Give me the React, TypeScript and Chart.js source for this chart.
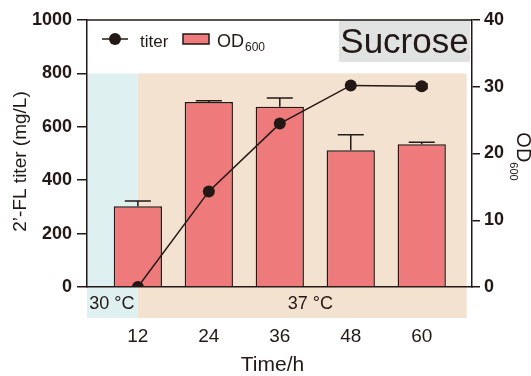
import React, { useEffect, useRef } from 'react';
import { Chart, registerables } from 'chart.js';

Chart.register(...registerables);

// ---- data ----
const timePoints = [12, 24, 36, 48, 60];
const titerValues = [0, 358, 612, 755, 752];
const titerErrors = [0, 0, 0, 0, 8];
const odValues = [12.1, 27.7, 27.0, 20.5, 21.4];
const odErrors = [0.8, 0.2, 1.3, 2.3, 0.3];
const leftTicks = [0, 200, 400, 600, 800, 1000];
const rightTicks = [0, 10, 20, 30, 40];
const xTickLabels = ['12', '24', '36', '48', '60'];
const phaseSplit = 12;
const phaseEnd = 67.6;
const phaseTop = 800;
const phaseLabels = ['30 °C', '37 °C'];
const panelTitle = 'Sucrose';

const FONT = '"Liberation Sans", Arial, Helvetica, sans-serif';
const DARK = '#231815';
const BAR = '#EE7A7B';
const BLUE = '#DFF0F1';
const TAN = '#F3E2CF';
const GRAY = '#E1E3E3';

const decorPlugin = {
  id: 'decor',
  beforeDraw(chart: any) {
    const { ctx, chartArea: a, scales } = chart;
    const x = scales.x;
    const y = scales.y;
    const top = y.getPixelForValue(phaseTop);
    const bottom = y.getPixelForValue(0) + 31;
    const xs = x.getPixelForValue(phaseSplit);
    const xe = x.getPixelForValue(phaseEnd);
    ctx.save();
    ctx.fillStyle = BLUE;
    ctx.fillRect(a.left, top, xs - a.left, bottom - top);
    ctx.fillStyle = TAN;
    ctx.fillRect(xs, top, xe - xs, bottom - top);
    // phase labels
    ctx.fillStyle = DARK;
    ctx.font = `18px ${FONT}`;
    ctx.textAlign = 'center';
    ctx.textBaseline = 'alphabetic';
    ctx.fillText(phaseLabels[0], (a.left + xs) / 2 - 0.5, bottom - 9);
    ctx.fillText(phaseLabels[1], (xs + xe) / 2 + 8, bottom - 9);
    // panel title box
    ctx.fillStyle = GRAY;
    ctx.fillRect(a.right - 133, a.top, 131, 42);
    ctx.fillStyle = DARK;
    ctx.font = `35px ${FONT}`;
    ctx.textAlign = 'center';
    ctx.fillText(panelTitle, a.right - 67.5, a.top + 33);
    ctx.restore();
  },
  afterDatasetsDraw(chart: any) {
    const { ctx, scales } = chart;
    const x = scales.x;
    const y1 = scales.y1;
    const y = scales.y;
    const barMeta = chart.getDatasetMeta(1);
    ctx.save();
    ctx.strokeStyle = DARK;
    ctx.lineWidth = 1.5;
    odValues.forEach((v, i) => {
      const el = barMeta.data[i];
      const cx = x.getPixelForValue(timePoints[i]);
      const y0 = y1.getPixelForValue(v);
      const yt = y1.getPixelForValue(v + odErrors[i]);
      const hw = (el ? el.width : 48) * 0.27;
      ctx.beginPath();
      ctx.moveTo(cx, y0);
      ctx.lineTo(cx, yt);
      ctx.moveTo(cx - hw, yt);
      ctx.lineTo(cx + hw, yt);
      ctx.stroke();
    });
    titerValues.forEach((v, i) => {
      const e = titerErrors[i];
      if (!e) return;
      const cx = x.getPixelForValue(timePoints[i]);
      const yt = y.getPixelForValue(v + e);
      const yb = y.getPixelForValue(v - e);
      ctx.fillStyle = DARK;
      ctx.fillRect(cx - 6, yt - 1, 12, yb - yt + 2);
    });
    ctx.restore();
  },
  afterDraw(chart: any) {
    const { ctx, chartArea: a } = chart;
    ctx.save();
    // top frame
    ctx.strokeStyle = DARK;
    ctx.lineWidth = 1.5;
    ctx.beginPath();
    ctx.moveTo(a.left, a.top);
    ctx.lineTo(a.right, a.top);
    ctx.stroke();
    // legend
    const ly = a.top + 19;
    ctx.beginPath();
    ctx.moveTo(a.left + 15, ly);
    ctx.lineTo(a.left + 41, ly);
    ctx.stroke();
    ctx.fillStyle = DARK;
    ctx.beginPath();
    ctx.arc(a.left + 28, ly, 6, 0, Math.PI * 2);
    ctx.fill();
    ctx.font = `17px ${FONT}`;
    ctx.textAlign = 'left';
    ctx.textBaseline = 'alphabetic';
    ctx.fillText('titer', a.left + 53, a.top + 27);
    ctx.fillStyle = BAR;
    ctx.fillRect(a.left + 96, a.top + 14, 26, 10);
    ctx.strokeRect(a.left + 96, a.top + 14, 26, 10);
    ctx.fillStyle = DARK;
    ctx.font = `18px ${FONT}`;
    ctx.fillText('OD', a.left + 130, a.top + 27);
    const odW = ctx.measureText('OD').width;
    ctx.font = `12px ${FONT}`;
    ctx.fillText('600', a.left + 130 + odW + 1, a.top + 31);
    // left axis title
    ctx.font = `19px ${FONT}`;
    ctx.textAlign = 'center';
    ctx.textBaseline = 'middle';
    ctx.save();
    ctx.translate(21, (a.top + a.bottom) / 2 + 8);
    ctx.rotate(-Math.PI / 2);
    ctx.fillText('2’-FL titer (mg/L)', 0, 0);
    ctx.restore();
    // x axis title
    ctx.font = `21px ${FONT}`;
    ctx.fillText('Time/h', (a.left + a.right) / 2 - 7, a.bottom + 78);
    // right axis title
    ctx.font = `20px ${FONT}`;
    const w1 = ctx.measureText('OD').width;
    ctx.font = `11px ${FONT}`;
    const w2 = ctx.measureText('600').width;
    const total = w1 + w2;
    ctx.save();
    ctx.translate(a.right + 45, (a.top + a.bottom) / 2 + 3 - total / 2);
    ctx.rotate(Math.PI / 2);
    ctx.textAlign = 'left';
    ctx.textBaseline = 'alphabetic';
    ctx.font = `20px ${FONT}`;
    ctx.fillText('OD', 0, 0);
    ctx.font = `11px ${FONT}`;
    ctx.fillText('600', w1, 7);
    ctx.restore();
    ctx.restore();
  },
};

export default function App() {
  const ref = useRef<HTMLCanvasElement | null>(null);
  useEffect(() => {
    if (!ref.current) return;
    const chart = new Chart(ref.current, {
      type: 'bar',
      data: {
        datasets: [
          {
            type: 'line',
            label: 'titer',
            data: timePoints.map((t, i) => ({ x: t, y: titerValues[i] })),
            yAxisID: 'y',
            borderColor: DARK,
            backgroundColor: DARK,
            borderWidth: 1.5,
            pointRadius: 6,
            pointBackgroundColor: DARK,
            pointBorderColor: DARK,
            pointBorderWidth: 0,
            tension: 0,
            order: 0,
          } as any,
          {
            type: 'bar',
            label: 'OD600',
            data: timePoints.map((t, i) => ({ x: t, y: odValues[i] })),
            yAxisID: 'y1',
            backgroundColor: BAR,
            borderColor: DARK,
            borderWidth: 1.5,
            barPercentage: 0.68,
            categoryPercentage: 1,
            order: 1,
          } as any,
        ],
      },
      options: {
        animation: false,
        responsive: false,
        layout: { padding: { top: 20, left: 0, right: 0, bottom: 0 } },
        plugins: { legend: { display: false }, tooltip: { enabled: false } },
        scales: {
          x: {
            type: 'linear',
            min: 3.4,
            max: 68.5,
            offset: false,
            afterBuildTicks: (s: any) => {
              s.ticks = timePoints.map((v) => ({ value: v }));
            },
            afterFit: (s: any) => {
              s.height = 89;
            },
            ticks: {
              color: DARK,
              font: { family: FONT, size: 19 },
              padding: 38,
              callback: (v: any) => xTickLabels[timePoints.indexOf(Number(v))] ?? '',
              maxRotation: 0,
              autoSkip: false,
            },
            grid: { display: false, drawTicks: false, offset: false },
            border: { display: true, color: DARK, width: 1.5 },
          },
          y: {
            type: 'linear',
            position: 'left',
            min: 0,
            max: 1000,
            afterBuildTicks: (s: any) => {
              s.ticks = leftTicks.map((v) => ({ value: v }));
            },
            afterFit: (s: any) => {
              s.width = 87;
            },
            ticks: {
              color: DARK,
              font: { family: FONT, size: 18, weight: 'bold' },
              padding: 5,
              callback: (v: any) => String(v),
            },
            grid: {
              display: true,
              drawOnChartArea: false,
              drawTicks: true,
              tickLength: 10,
              color: DARK,
              lineWidth: 1.5,
            },
            border: { display: true, color: DARK, width: 1.5 },
          },
          y1: {
            type: 'linear',
            position: 'right',
            min: 0,
            max: 40,
            afterBuildTicks: (s: any) => {
              s.ticks = rightTicks.map((v) => ({ value: v }));
            },
            afterFit: (s: any) => {
              s.width = 59;
            },
            ticks: {
              color: DARK,
              font: { family: FONT, size: 18, weight: 'bold' },
              padding: 4,
              callback: (v: any) => String(v),
            },
            grid: {
              display: true,
              drawOnChartArea: false,
              drawTicks: true,
              tickLength: 8,
              color: DARK,
              lineWidth: 1.5,
            },
            border: { display: true, color: DARK, width: 1.5 },
          },
        },
      } as any,
      plugins: [decorPlugin],
    });
    return () => chart.destroy();
  }, []);
  return (
    <div style={{ position: 'fixed', left: 0, top: 0, width: 531, height: 376, background: '#fff' }}>
      <canvas ref={ref} width={531} height={376} style={{ display: 'block' }} />
    </div>
  );
}
